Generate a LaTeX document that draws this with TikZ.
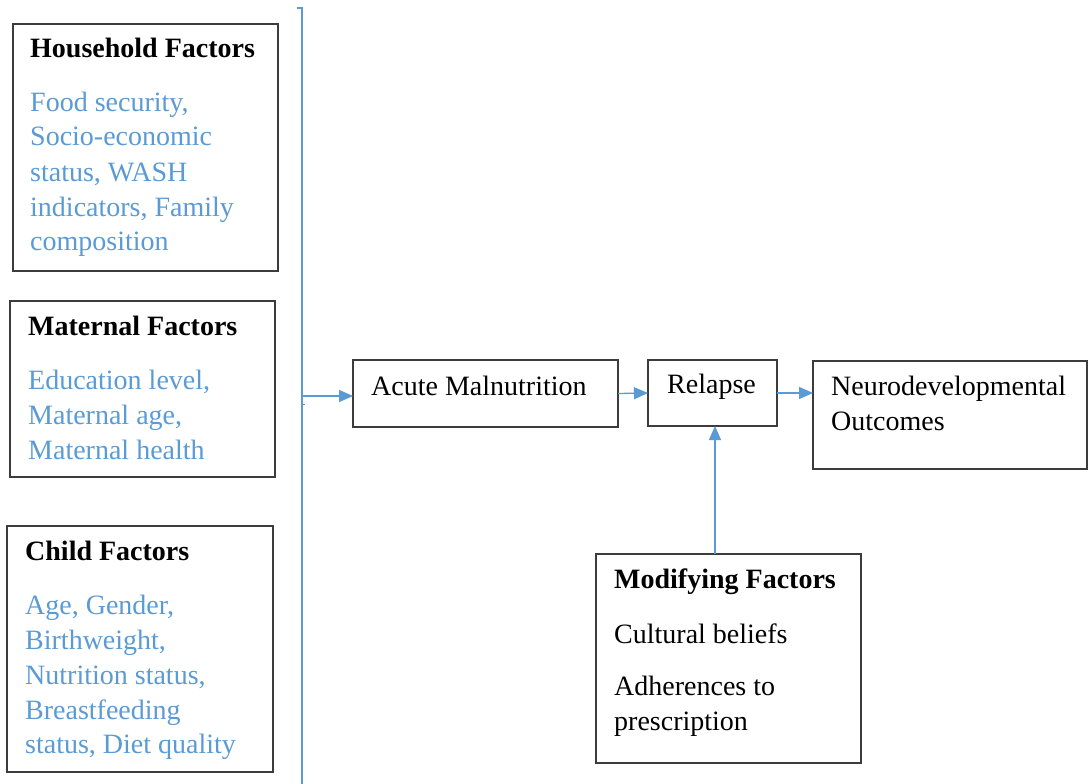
\documentclass[tikz,border=0pt]{standalone}
\usepackage{fontspec}
\setmainfont{Liberation Serif}
\usetikzlibrary{arrows.meta}
\definecolor{wordblue}{RGB}{91,155,213}
\definecolor{boxgray}{RGB}{60,60,60}
\tikzset{
  box/.style={draw=boxgray,line width=1.2pt,inner sep=0pt,outer sep=0pt,rectangle},
  txt/.style={anchor=base west,inner sep=0pt,font=\fontsize{28}{34}\selectfont},
  hd/.style={txt,font=\fontsize{28}{34}\selectfont\bfseries},
  bl/.style={txt,text=wordblue},
  conn/.style={draw=wordblue,line width=1.3pt,-{Triangle[length=14pt,width=12pt]}},
  bracket/.style={draw=wordblue,line width=1.3pt}
}
\begin{document}
\begin{tikzpicture}[x=1pt,y=-1pt]
\useasboundingbox[fill=white] (0,0) rectangle (1088,784);
% boxes
\node[box,minimum width=265pt,minimum height=247pt] (hh) at (145.5,147.5) {};
\node[box,minimum width=265pt,minimum height=176pt] (mat) at (142.5,389) {};
\node[box,minimum width=266pt,minimum height=246pt] (chi) at (140,649) {};
\node[box,minimum width=265pt,minimum height=67pt] (am) at (485.5,393.5) {};
\node[box,minimum width=129pt,minimum height=66pt] (rel) at (712.5,393) {};
\node[box,minimum width=274pt,minimum height=108pt] (neu) at (950,415) {};
\node[box,minimum width=265pt,minimum height=209pt] (mod) at (728.5,658.5) {};
% household text
\node[hd] (hht) at (30,58) {Household Factors};
\node[bl] (hh1) at (30,111) {Food security,};
\node[bl] (hh2) at (30,146) {Socio-economic};
\node[bl] (hh3) at (30,181) {status, WASH};
\node[bl] (hh4) at (30,216) {indicators, Family};
\node[bl] (hh5) at (30,250) {composition};
% maternal text
\node[hd] (matt) at (28,335) {Maternal Factors};
\node[bl] (mat1) at (28,389) {Education level,};
\node[bl] (mat2) at (28,424) {Maternal age,};
\node[bl] (mat3) at (28,459) {Maternal health};
% child text
\node[hd] (chit) at (25,560) {Child Factors};
\node[bl] (chi1) at (25,614) {Age, Gender,};
\node[bl] (chi2) at (25,649) {Birthweight,};
\node[bl] (chi3) at (25,684) {Nutrition status,};
\node[bl] (chi4) at (25,719) {Breastfeeding};
\node[bl] (chi5) at (25,753) {status, Diet quality};
% centre boxes text
\node[txt] (amt) at (371,395) {Acute Malnutrition};
\node[txt] (relt) at (667,393) {Relapse};
\node[txt] (neu1) at (831,395) {Neurodevelopmental};
\node[txt] (neu2) at (831,430) {Outcomes};
% modifying text
\node[hd] (modt) at (614,588) {Modifying Factors};
\node[txt] (mod1) at (614,643) {Cultural beliefs};
\node[txt] (mod2) at (614,695) {Adherences to};
\node[txt] (mod3) at (614,730) {prescription};
% bracket
\coordinate (hook) at (297,8);
\coordinate (btop) at (302,8);
\coordinate (bbot) at (302,784);
\coordinate (src) at (302,396);
\coordinate (tick1) at (302,404);
\coordinate (tick2) at (305,404);
\coordinate (modup) at (715,554);
\draw[bracket] (hook) -- (btop) -- (bbot);
\draw[bracket,line width=1pt] (tick1) -- (tick2);
% connectors
\draw[conn] (src) -- (src -| am.west);
\draw[conn] (am.east) -- (rel.west);
\draw[conn] (rel.east) -- (rel.east -| neu.west);
\draw[conn] (modup) -- (modup |- rel.south);
\end{tikzpicture}
\end{document}
